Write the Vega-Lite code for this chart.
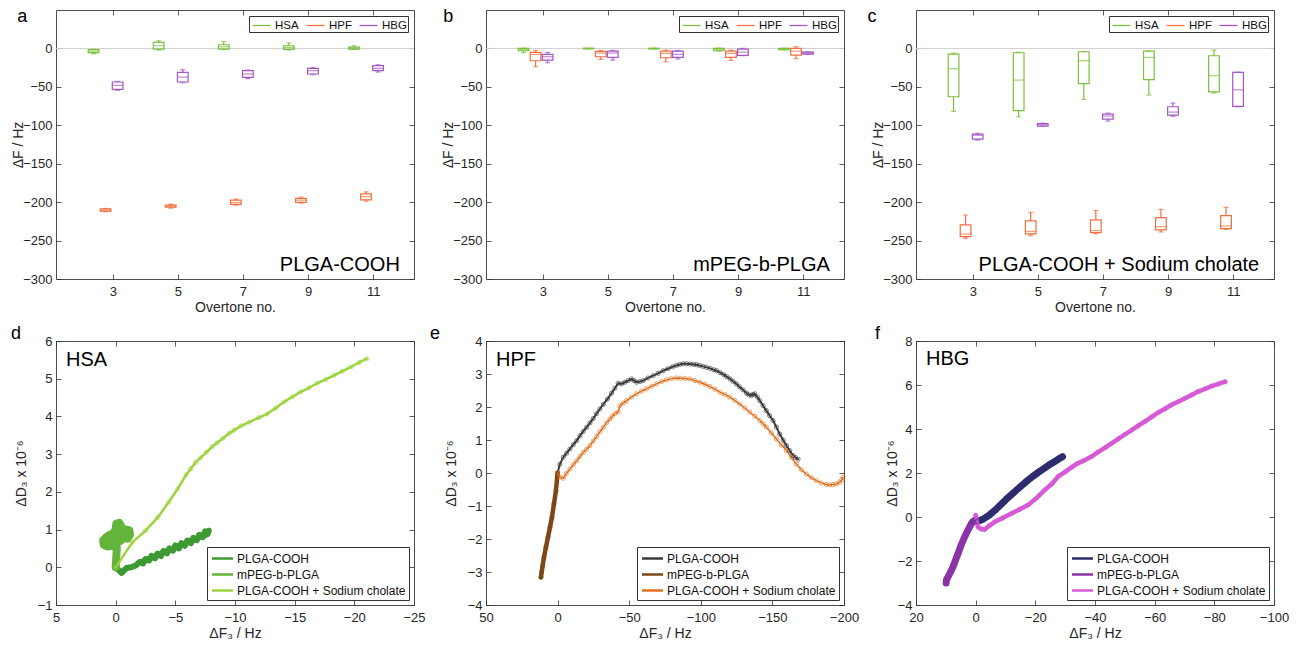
{
"$schema": "https://vega.github.io/schema/vega-lite/v6.json",
"padding": {"left": 10, "top": 7, "right": 5, "bottom": 5},
"background": "white",
"config": {
  "font": "Liberation Sans",
  "view": {"stroke": "#4d4d4d", "strokeWidth": 1},
  "axis": {"domain": false, "grid": false, "tickSize": -5, "tickCount": 20, "tickColor": "#333333", "tickWidth": 0.8, "labelFont": "Liberation Sans", "labelFontSize": 13, "labelColor": "#262626", "labelFlush": false, "labelOverlap": false, "titleFont": "Liberation Sans", "titleFontSize": 14, "titleFontWeight": "normal", "titleColor": "#262626"},
  "axisX": {"labelPadding": 11, "titlePadding": 2},
  "axisY": {"labelPadding": 9, "titlePadding": 3},
  "legend": {"labelFont": "Liberation Sans", "labelColor": "#111111", "strokeColor": "#333333", "fillColor": "#ffffff", "labelLimit": 400}
},
"datasets": {
"box": [
{"p":"a","g":"HSA","ot":3,"pos":2.41,"lo":-7,"q1":-5.5,"med":-3.5,"q3":-1.5,"hi":-1},
{"p":"a","g":"HSA","ot":5,"pos":4.41,"lo":-2.2,"q1":-0.9,"med":3.5,"q3":7.8,"hi":10},
{"p":"a","g":"HSA","ot":7,"pos":6.41,"lo":-1.3,"q1":-0.9,"med":2.2,"q3":4.8,"hi":9},
{"p":"a","g":"HSA","ot":9,"pos":8.41,"lo":-2,"q1":-1.3,"med":1.3,"q3":3.5,"hi":7.4},
{"p":"a","g":"HSA","ot":11,"pos":10.41,"lo":-1.3,"q1":-0.9,"med":0.4,"q3":1.7,"hi":3.5},
{"p":"a","g":"HPF","ot":3,"pos":2.78,"lo":-212.5,"q1":-211.7,"med":-210.4,"q3":-208.7,"hi":-208.2},
{"p":"a","g":"HPF","ot":5,"pos":4.78,"lo":-207.8,"q1":-206.5,"med":-205.2,"q3":-203.9,"hi":-202.6},
{"p":"a","g":"HPF","ot":7,"pos":6.78,"lo":-203.9,"q1":-203,"med":-200.5,"q3":-197.4,"hi":-196},
{"p":"a","g":"HPF","ot":9,"pos":8.78,"lo":-201.3,"q1":-200.4,"med":-197.4,"q3":-195.2,"hi":-193.5},
{"p":"a","g":"HPF","ot":11,"pos":10.78,"lo":-198.7,"q1":-197,"med":-192.6,"q3":-189.2,"hi":-186.6},
{"p":"a","g":"HBG","ot":3,"pos":3.15,"lo":-54.5,"q1":-53.2,"med":-48,"q3":-43.7,"hi":-42.9},
{"p":"a","g":"HBG","ot":5,"pos":5.15,"lo":-44.6,"q1":-43.7,"med":-37.2,"q3":-31.2,"hi":-27.7},
{"p":"a","g":"HBG","ot":7,"pos":7.15,"lo":-39.4,"q1":-37.7,"med":-33.3,"q3":-29,"hi":-28.1},
{"p":"a","g":"HBG","ot":9,"pos":9.15,"lo":-34.2,"q1":-33.3,"med":-29,"q3":-26,"hi":-25.1},
{"p":"a","g":"HBG","ot":11,"pos":11.15,"lo":-30.7,"q1":-29,"med":-26,"q3":-22.5,"hi":-21.2},
{"p":"b","g":"HSA","ot":3,"pos":2.41,"lo":-5.6,"q1":-3,"med":-1.3,"q3":0,"hi":0.3},
{"p":"b","g":"HSA","ot":5,"pos":4.41,"lo":-0.6,"q1":-0.4,"med":-0.1,"q3":0.2,"hi":0.3},
{"p":"b","g":"HSA","ot":7,"pos":6.41,"lo":-0.8,"q1":-0.5,"med":-0.2,"q3":0.2,"hi":0.3},
{"p":"b","g":"HSA","ot":9,"pos":8.41,"lo":-3.5,"q1":-3,"med":-1.3,"q3":0,"hi":0.3},
{"p":"b","g":"HSA","ot":11,"pos":10.41,"lo":-1.9,"q1":-1.7,"med":-0.8,"q3":0,"hi":0.2},
{"p":"b","g":"HPF","ot":3,"pos":2.78,"lo":-23.8,"q1":-16,"med":-7.8,"q3":-5.2,"hi":-2.6},
{"p":"b","g":"HPF","ot":5,"pos":4.78,"lo":-14.3,"q1":-10.8,"med":-6,"q3":-3.9,"hi":-2.6},
{"p":"b","g":"HPF","ot":7,"pos":6.78,"lo":-17.3,"q1":-12.1,"med":-6.5,"q3":-3.5,"hi":-2.2},
{"p":"b","g":"HPF","ot":9,"pos":8.78,"lo":-15.6,"q1":-11.7,"med":-6.5,"q3":-3.5,"hi":-2.2},
{"p":"b","g":"HPF","ot":11,"pos":10.78,"lo":-13.4,"q1":-8.7,"med":-3.5,"q3":0,"hi":2.2},
{"p":"b","g":"HBG","ot":3,"pos":3.15,"lo":-18.6,"q1":-15.2,"med":-10.8,"q3":-7.8,"hi":-5.2},
{"p":"b","g":"HBG","ot":5,"pos":5.15,"lo":-15.2,"q1":-11.7,"med":-6,"q3":-3.5,"hi":-2.6},
{"p":"b","g":"HBG","ot":7,"pos":7.15,"lo":-13.9,"q1":-11.7,"med":-7.8,"q3":-3.5,"hi":-2.6},
{"p":"b","g":"HBG","ot":9,"pos":9.15,"lo":-9.5,"q1":-9.1,"med":-4.8,"q3":-0.9,"hi":0},
{"p":"b","g":"HBG","ot":11,"pos":11.15,"lo":-7.8,"q1":-7.4,"med":-6,"q3":-4.8,"hi":-4.4},
{"p":"c","g":"HSA","ot":3,"pos":2.41,"lo":-81.9,"q1":-62.9,"med":-26.4,"q3":-7.4,"hi":-6.1},
{"p":"c","g":"HSA","ot":5,"pos":4.41,"lo":-88.9,"q1":-81,"med":-41.2,"q3":-5.6,"hi":-4.8},
{"p":"c","g":"HSA","ot":7,"pos":6.41,"lo":-66.3,"q1":-45.9,"med":-16,"q3":-4.3,"hi":-3.9},
{"p":"c","g":"HSA","ot":9,"pos":8.41,"lo":-60.7,"q1":-40.7,"med":-11.7,"q3":-3.5,"hi":-3.4},
{"p":"c","g":"HSA","ot":11,"pos":10.41,"lo":-58,"q1":-56.4,"med":-35.5,"q3":-9.5,"hi":-2.2},
{"p":"c","g":"HPF","ot":3,"pos":2.78,"lo":-247,"q1":-244.9,"med":-241.4,"q3":-229.7,"hi":-216.7},
{"p":"c","g":"HPF","ot":5,"pos":4.78,"lo":-243.6,"q1":-241.4,"med":-238,"q3":-224.5,"hi":-213.3},
{"p":"c","g":"HPF","ot":7,"pos":6.78,"lo":-241,"q1":-239.7,"med":-237,"q3":-223.2,"hi":-211},
{"p":"c","g":"HPF","ot":9,"pos":8.78,"lo":-238.8,"q1":-236.2,"med":-231.9,"q3":-220.2,"hi":-209.4},
{"p":"c","g":"HPF","ot":11,"pos":10.78,"lo":-235.4,"q1":-234.5,"med":-231,"q3":-217.6,"hi":-206.8},
{"p":"c","g":"HBG","ot":3,"pos":3.15,"lo":-119.2,"q1":-117.9,"med":-113,"q3":-111.4,"hi":-110.5},
{"p":"c","g":"HBG","ot":5,"pos":5.15,"lo":-101.4,"q1":-101,"med":-99.3,"q3":-97.8,"hi":-97.2},
{"p":"c","g":"HBG","ot":7,"pos":7.15,"lo":-94.5,"q1":-91.9,"med":-88,"q3":-85.4,"hi":-84.1},
{"p":"c","g":"HBG","ot":9,"pos":9.15,"lo":-88.4,"q1":-86.7,"med":-82.8,"q3":-75.9,"hi":-71.1},
{"p":"c","g":"HBG","ot":11,"pos":11.15,"lo":-75.9,"q1":-75.5,"med":-53.8,"q3":-31.2,"hi":-30.8}
],
"curve": [
{"p":"d","s":"PLGA-COOH","i":0,"x":0,"y":0},
{"p":"d","s":"PLGA-COOH","i":1,"x":-0.5,"y":-0.15},
{"p":"d","s":"PLGA-COOH","i":2,"x":-0.9,"y":-0.02},
{"p":"d","s":"PLGA-COOH","i":3,"x":-1.3,"y":0.0},
{"p":"d","s":"PLGA-COOH","i":4,"x":-1.7,"y":0.05},
{"p":"d","s":"PLGA-COOH","i":5,"x":-2.0,"y":0.14},
{"p":"d","s":"PLGA-COOH","i":6,"x":-2.3,"y":0.1},
{"p":"d","s":"PLGA-COOH","i":7,"x":-2.5,"y":0.22},
{"p":"d","s":"PLGA-COOH","i":8,"x":-2.8,"y":0.18},
{"p":"d","s":"PLGA-COOH","i":9,"x":-3.0,"y":0.3},
{"p":"d","s":"PLGA-COOH","i":10,"x":-3.3,"y":0.24},
{"p":"d","s":"PLGA-COOH","i":11,"x":-3.5,"y":0.36},
{"p":"d","s":"PLGA-COOH","i":12,"x":-3.8,"y":0.3},
{"p":"d","s":"PLGA-COOH","i":13,"x":-4.0,"y":0.43},
{"p":"d","s":"PLGA-COOH","i":14,"x":-4.3,"y":0.37},
{"p":"d","s":"PLGA-COOH","i":15,"x":-4.5,"y":0.5},
{"p":"d","s":"PLGA-COOH","i":16,"x":-4.8,"y":0.44},
{"p":"d","s":"PLGA-COOH","i":17,"x":-5.0,"y":0.58},
{"p":"d","s":"PLGA-COOH","i":18,"x":-5.3,"y":0.5},
{"p":"d","s":"PLGA-COOH","i":19,"x":-5.5,"y":0.64},
{"p":"d","s":"PLGA-COOH","i":20,"x":-5.8,"y":0.57},
{"p":"d","s":"PLGA-COOH","i":21,"x":-6.0,"y":0.71},
{"p":"d","s":"PLGA-COOH","i":22,"x":-6.3,"y":0.64},
{"p":"d","s":"PLGA-COOH","i":23,"x":-6.5,"y":0.78},
{"p":"d","s":"PLGA-COOH","i":24,"x":-6.8,"y":0.72},
{"p":"d","s":"PLGA-COOH","i":25,"x":-7.0,"y":0.86},
{"p":"d","s":"PLGA-COOH","i":26,"x":-7.3,"y":0.8},
{"p":"d","s":"PLGA-COOH","i":27,"x":-7.5,"y":0.95},
{"p":"d","s":"PLGA-COOH","i":28,"x":-7.7,"y":0.88},
{"p":"d","s":"PLGA-COOH","i":29,"x":-7.8,"y":0.97},
{"p":"d","s":"PLGA-COOH","i":30,"x":-7.5,"y":0.85},
{"p":"d","s":"PLGA-COOH","i":31,"x":-7.0,"y":0.8},
{"p":"d","s":"PLGA-COOH","i":32,"x":-6.5,"y":0.72},
{"p":"d","s":"PLGA-COOH","i":33,"x":-6.0,"y":0.66},
{"p":"d","s":"PLGA-COOH","i":34,"x":-5.5,"y":0.59},
{"p":"d","s":"PLGA-COOH","i":35,"x":-5.0,"y":0.52},
{"p":"d","s":"PLGA-COOH","i":36,"x":-4.5,"y":0.45},
{"p":"d","s":"PLGA-COOH","i":37,"x":-4.0,"y":0.39},
{"p":"d","s":"PLGA-COOH","i":38,"x":-3.5,"y":0.32},
{"p":"d","s":"PLGA-COOH","i":39,"x":-3.0,"y":0.26},
{"p":"d","s":"PLGA-COOH","i":40,"x":-2.5,"y":0.19},
{"p":"d","s":"PLGA-COOH","i":41,"x":-2.0,"y":0.12},
{"p":"d","s":"mPEG-b-PLGA","i":0,"x":0,"y":0},
{"p":"d","s":"mPEG-b-PLGA","i":1,"x":-0.1,"y":0.53},
{"p":"d","s":"mPEG-b-PLGA","i":2,"x":0.3,"y":0.6},
{"p":"d","s":"mPEG-b-PLGA","i":3,"x":0.7,"y":0.55},
{"p":"d","s":"mPEG-b-PLGA","i":4,"x":1.0,"y":0.6},
{"p":"d","s":"mPEG-b-PLGA","i":5,"x":1.05,"y":0.72},
{"p":"d","s":"mPEG-b-PLGA","i":6,"x":0.8,"y":0.76},
{"p":"d","s":"mPEG-b-PLGA","i":7,"x":0.5,"y":0.68},
{"p":"d","s":"mPEG-b-PLGA","i":8,"x":0.2,"y":0.73},
{"p":"d","s":"mPEG-b-PLGA","i":9,"x":-0.1,"y":0.76},
{"p":"d","s":"mPEG-b-PLGA","i":10,"x":-0.4,"y":0.7},
{"p":"d","s":"mPEG-b-PLGA","i":11,"x":-0.7,"y":0.78},
{"p":"d","s":"mPEG-b-PLGA","i":12,"x":-1.0,"y":0.76},
{"p":"d","s":"mPEG-b-PLGA","i":13,"x":-1.2,"y":0.86},
{"p":"d","s":"mPEG-b-PLGA","i":14,"x":-1.15,"y":0.98},
{"p":"d","s":"mPEG-b-PLGA","i":15,"x":-0.9,"y":1.0},
{"p":"d","s":"mPEG-b-PLGA","i":16,"x":-0.6,"y":0.96},
{"p":"d","s":"mPEG-b-PLGA","i":17,"x":-0.45,"y":1.1},
{"p":"d","s":"mPEG-b-PLGA","i":18,"x":-0.3,"y":1.18},
{"p":"d","s":"mPEG-b-PLGA","i":19,"x":-0.05,"y":1.16},
{"p":"d","s":"mPEG-b-PLGA","i":20,"x":0.0,"y":1.0},
{"p":"d","s":"mPEG-b-PLGA","i":21,"x":0.2,"y":0.9},
{"p":"d","s":"mPEG-b-PLGA","i":22,"x":0.5,"y":0.86},
{"p":"d","s":"mPEG-b-PLGA","i":23,"x":0.8,"y":0.8},
{"p":"d","s":"mPEG-b-PLGA","i":24,"x":1.0,"y":0.68},
{"p":"d","s":"mPEG-b-PLGA","i":25,"x":0.6,"y":0.63},
{"p":"d","s":"mPEG-b-PLGA","i":26,"x":0.2,"y":0.66},
{"p":"d","s":"mPEG-b-PLGA","i":27,"x":-0.2,"y":0.86},
{"p":"d","s":"mPEG-b-PLGA","i":28,"x":-0.5,"y":0.88},
{"p":"d","s":"mPEG-b-PLGA","i":29,"x":-0.9,"y":0.88},
{"p":"d","s":"mPEG-b-PLGA","i":30,"x":-1.1,"y":0.93},
{"p":"d","s":"PLGA-COOH + Sodium cholate","i":0,"x":0,"y":0},
{"p":"d","s":"PLGA-COOH + Sodium cholate","i":1,"x":-1.4,"y":0.66},
{"p":"d","s":"PLGA-COOH + Sodium cholate","i":2,"x":-2.5,"y":0.97},
{"p":"d","s":"PLGA-COOH + Sodium cholate","i":3,"x":-3.55,"y":1.33},
{"p":"d","s":"PLGA-COOH + Sodium cholate","i":4,"x":-4.45,"y":1.73},
{"p":"d","s":"PLGA-COOH + Sodium cholate","i":5,"x":-5.2,"y":2.08},
{"p":"d","s":"PLGA-COOH + Sodium cholate","i":6,"x":-5.9,"y":2.45},
{"p":"d","s":"PLGA-COOH + Sodium cholate","i":7,"x":-6.3,"y":2.62},
{"p":"d","s":"PLGA-COOH + Sodium cholate","i":8,"x":-6.7,"y":2.78},
{"p":"d","s":"PLGA-COOH + Sodium cholate","i":9,"x":-7.1,"y":2.9},
{"p":"d","s":"PLGA-COOH + Sodium cholate","i":10,"x":-7.6,"y":3.05},
{"p":"d","s":"PLGA-COOH + Sodium cholate","i":11,"x":-8.1,"y":3.2},
{"p":"d","s":"PLGA-COOH + Sodium cholate","i":12,"x":-8.5,"y":3.3},
{"p":"d","s":"PLGA-COOH + Sodium cholate","i":13,"x":-9.0,"y":3.42},
{"p":"d","s":"PLGA-COOH + Sodium cholate","i":14,"x":-9.5,"y":3.55},
{"p":"d","s":"PLGA-COOH + Sodium cholate","i":15,"x":-9.9,"y":3.63},
{"p":"d","s":"PLGA-COOH + Sodium cholate","i":16,"x":-10.5,"y":3.75},
{"p":"d","s":"PLGA-COOH + Sodium cholate","i":17,"x":-11.2,"y":3.85},
{"p":"d","s":"PLGA-COOH + Sodium cholate","i":18,"x":-12.0,"y":3.97},
{"p":"d","s":"PLGA-COOH + Sodium cholate","i":19,"x":-12.7,"y":4.07},
{"p":"d","s":"PLGA-COOH + Sodium cholate","i":20,"x":-13.4,"y":4.22},
{"p":"d","s":"PLGA-COOH + Sodium cholate","i":21,"x":-14.1,"y":4.38},
{"p":"d","s":"PLGA-COOH + Sodium cholate","i":22,"x":-14.8,"y":4.52},
{"p":"d","s":"PLGA-COOH + Sodium cholate","i":23,"x":-15.5,"y":4.65},
{"p":"d","s":"PLGA-COOH + Sodium cholate","i":24,"x":-16.2,"y":4.76},
{"p":"d","s":"PLGA-COOH + Sodium cholate","i":25,"x":-16.9,"y":4.88},
{"p":"d","s":"PLGA-COOH + Sodium cholate","i":26,"x":-17.6,"y":4.98},
{"p":"d","s":"PLGA-COOH + Sodium cholate","i":27,"x":-18.3,"y":5.09},
{"p":"d","s":"PLGA-COOH + Sodium cholate","i":28,"x":-19.0,"y":5.2},
{"p":"d","s":"PLGA-COOH + Sodium cholate","i":29,"x":-19.7,"y":5.31},
{"p":"d","s":"PLGA-COOH + Sodium cholate","i":30,"x":-20.4,"y":5.43},
{"p":"d","s":"PLGA-COOH + Sodium cholate","i":31,"x":-21.05,"y":5.53},
{"p":"e","s":"PLGA-COOH","i":0,"x":0,"y":0},
{"p":"e","s":"PLGA-COOH","i":1,"x":-1.6,"y":0.27},
{"p":"e","s":"PLGA-COOH","i":2,"x":-4,"y":0.48},
{"p":"e","s":"PLGA-COOH","i":3,"x":-6.3,"y":0.6},
{"p":"e","s":"PLGA-COOH","i":4,"x":-8.6,"y":0.73},
{"p":"e","s":"PLGA-COOH","i":5,"x":-11,"y":0.86},
{"p":"e","s":"PLGA-COOH","i":6,"x":-13.3,"y":0.98},
{"p":"e","s":"PLGA-COOH","i":7,"x":-15.6,"y":1.13},
{"p":"e","s":"PLGA-COOH","i":8,"x":-17.9,"y":1.26},
{"p":"e","s":"PLGA-COOH","i":9,"x":-20.2,"y":1.38},
{"p":"e","s":"PLGA-COOH","i":10,"x":-22.6,"y":1.52},
{"p":"e","s":"PLGA-COOH","i":11,"x":-24.9,"y":1.65},
{"p":"e","s":"PLGA-COOH","i":12,"x":-27.2,"y":1.8},
{"p":"e","s":"PLGA-COOH","i":13,"x":-29.5,"y":1.94},
{"p":"e","s":"PLGA-COOH","i":14,"x":-31.9,"y":2.08},
{"p":"e","s":"PLGA-COOH","i":15,"x":-34.8,"y":2.24},
{"p":"e","s":"PLGA-COOH","i":16,"x":-37.7,"y":2.42},
{"p":"e","s":"PLGA-COOH","i":17,"x":-40,"y":2.57},
{"p":"e","s":"PLGA-COOH","i":18,"x":-42.3,"y":2.72},
{"p":"e","s":"PLGA-COOH","i":19,"x":-44.7,"y":2.7},
{"p":"e","s":"PLGA-COOH","i":20,"x":-47,"y":2.75},
{"p":"e","s":"PLGA-COOH","i":21,"x":-49.3,"y":2.8},
{"p":"e","s":"PLGA-COOH","i":22,"x":-51.6,"y":2.85},
{"p":"e","s":"PLGA-COOH","i":23,"x":-53.4,"y":2.8},
{"p":"e","s":"PLGA-COOH","i":24,"x":-55.1,"y":2.75},
{"p":"e","s":"PLGA-COOH","i":25,"x":-57.5,"y":2.77},
{"p":"e","s":"PLGA-COOH","i":26,"x":-59.8,"y":2.8},
{"p":"e","s":"PLGA-COOH","i":27,"x":-63.2,"y":2.88},
{"p":"e","s":"PLGA-COOH","i":28,"x":-66.7,"y":2.95},
{"p":"e","s":"PLGA-COOH","i":29,"x":-70.2,"y":3.02},
{"p":"e","s":"PLGA-COOH","i":30,"x":-73.7,"y":3.1},
{"p":"e","s":"PLGA-COOH","i":31,"x":-77,"y":3.16},
{"p":"e","s":"PLGA-COOH","i":32,"x":-80.3,"y":3.22},
{"p":"e","s":"PLGA-COOH","i":33,"x":-83,"y":3.26},
{"p":"e","s":"PLGA-COOH","i":34,"x":-85.3,"y":3.29},
{"p":"e","s":"PLGA-COOH","i":35,"x":-87.7,"y":3.31},
{"p":"e","s":"PLGA-COOH","i":36,"x":-90,"y":3.31},
{"p":"e","s":"PLGA-COOH","i":37,"x":-92.5,"y":3.3},
{"p":"e","s":"PLGA-COOH","i":38,"x":-95,"y":3.29},
{"p":"e","s":"PLGA-COOH","i":39,"x":-97,"y":3.28},
{"p":"e","s":"PLGA-COOH","i":40,"x":-99,"y":3.26},
{"p":"e","s":"PLGA-COOH","i":41,"x":-101.5,"y":3.23},
{"p":"e","s":"PLGA-COOH","i":42,"x":-104,"y":3.2},
{"p":"e","s":"PLGA-COOH","i":43,"x":-106.5,"y":3.17},
{"p":"e","s":"PLGA-COOH","i":44,"x":-109,"y":3.13},
{"p":"e","s":"PLGA-COOH","i":45,"x":-111,"y":3.1},
{"p":"e","s":"PLGA-COOH","i":46,"x":-113.5,"y":3.04},
{"p":"e","s":"PLGA-COOH","i":47,"x":-116,"y":2.98},
{"p":"e","s":"PLGA-COOH","i":48,"x":-118,"y":2.92},
{"p":"e","s":"PLGA-COOH","i":49,"x":-120.5,"y":2.85},
{"p":"e","s":"PLGA-COOH","i":50,"x":-122.5,"y":2.78},
{"p":"e","s":"PLGA-COOH","i":51,"x":-124.9,"y":2.7},
{"p":"e","s":"PLGA-COOH","i":52,"x":-127,"y":2.61},
{"p":"e","s":"PLGA-COOH","i":53,"x":-129.5,"y":2.52},
{"p":"e","s":"PLGA-COOH","i":54,"x":-131.9,"y":2.42},
{"p":"e","s":"PLGA-COOH","i":55,"x":-133.5,"y":2.37},
{"p":"e","s":"PLGA-COOH","i":56,"x":-135.3,"y":2.35},
{"p":"e","s":"PLGA-COOH","i":57,"x":-136.5,"y":2.38},
{"p":"e","s":"PLGA-COOH","i":58,"x":-137.7,"y":2.4},
{"p":"e","s":"PLGA-COOH","i":59,"x":-139.5,"y":2.3},
{"p":"e","s":"PLGA-COOH","i":60,"x":-141.2,"y":2.19},
{"p":"e","s":"PLGA-COOH","i":61,"x":-143.5,"y":2.04},
{"p":"e","s":"PLGA-COOH","i":62,"x":-145.8,"y":1.89},
{"p":"e","s":"PLGA-COOH","i":63,"x":-148,"y":1.74},
{"p":"e","s":"PLGA-COOH","i":64,"x":-150.5,"y":1.59},
{"p":"e","s":"PLGA-COOH","i":65,"x":-152.8,"y":1.39},
{"p":"e","s":"PLGA-COOH","i":66,"x":-155.1,"y":1.18},
{"p":"e","s":"PLGA-COOH","i":67,"x":-157.5,"y":1.0},
{"p":"e","s":"PLGA-COOH","i":68,"x":-159.8,"y":0.83},
{"p":"e","s":"PLGA-COOH","i":69,"x":-162,"y":0.68},
{"p":"e","s":"PLGA-COOH","i":70,"x":-164.4,"y":0.53},
{"p":"e","s":"PLGA-COOH","i":71,"x":-166,"y":0.47},
{"p":"e","s":"PLGA-COOH","i":72,"x":-167.9,"y":0.42},
{"p":"e","s":"mPEG-b-PLGA","i":0,"x":0,"y":0},
{"p":"e","s":"mPEG-b-PLGA","i":1,"x":1.16,"y":-0.54},
{"p":"e","s":"mPEG-b-PLGA","i":2,"x":2.56,"y":-0.94},
{"p":"e","s":"mPEG-b-PLGA","i":3,"x":3.95,"y":-1.34},
{"p":"e","s":"mPEG-b-PLGA","i":4,"x":5.35,"y":-1.65},
{"p":"e","s":"mPEG-b-PLGA","i":5,"x":6.74,"y":-1.95},
{"p":"e","s":"mPEG-b-PLGA","i":6,"x":8.14,"y":-2.25},
{"p":"e","s":"mPEG-b-PLGA","i":7,"x":9.53,"y":-2.56},
{"p":"e","s":"mPEG-b-PLGA","i":8,"x":10.47,"y":-2.81},
{"p":"e","s":"mPEG-b-PLGA","i":9,"x":11.16,"y":-3.01},
{"p":"e","s":"mPEG-b-PLGA","i":10,"x":11.63,"y":-3.16},
{"p":"e","s":"PLGA-COOH + Sodium cholate","i":0,"x":0,"y":0},
{"p":"e","s":"PLGA-COOH + Sodium cholate","i":1,"x":-1.6,"y":-0.13},
{"p":"e","s":"PLGA-COOH + Sodium cholate","i":2,"x":-4,"y":-0.16},
{"p":"e","s":"PLGA-COOH + Sodium cholate","i":3,"x":-6,"y":-0.02},
{"p":"e","s":"PLGA-COOH + Sodium cholate","i":4,"x":-8.6,"y":0.12},
{"p":"e","s":"PLGA-COOH + Sodium cholate","i":5,"x":-11,"y":0.25},
{"p":"e","s":"PLGA-COOH + Sodium cholate","i":6,"x":-13.3,"y":0.37},
{"p":"e","s":"PLGA-COOH + Sodium cholate","i":7,"x":-15.6,"y":0.5},
{"p":"e","s":"PLGA-COOH + Sodium cholate","i":8,"x":-17.9,"y":0.62},
{"p":"e","s":"PLGA-COOH + Sodium cholate","i":9,"x":-20.2,"y":0.72},
{"p":"e","s":"PLGA-COOH + Sodium cholate","i":10,"x":-22.6,"y":0.83},
{"p":"e","s":"PLGA-COOH + Sodium cholate","i":11,"x":-24.9,"y":0.97},
{"p":"e","s":"PLGA-COOH + Sodium cholate","i":12,"x":-27.2,"y":1.1},
{"p":"e","s":"PLGA-COOH + Sodium cholate","i":13,"x":-29.5,"y":1.25},
{"p":"e","s":"PLGA-COOH + Sodium cholate","i":14,"x":-31.9,"y":1.38},
{"p":"e","s":"PLGA-COOH + Sodium cholate","i":15,"x":-34.2,"y":1.52},
{"p":"e","s":"PLGA-COOH + Sodium cholate","i":16,"x":-36.5,"y":1.63},
{"p":"e","s":"PLGA-COOH + Sodium cholate","i":17,"x":-38.3,"y":1.72},
{"p":"e","s":"PLGA-COOH + Sodium cholate","i":18,"x":-40,"y":1.8},
{"p":"e","s":"PLGA-COOH + Sodium cholate","i":19,"x":-42.3,"y":1.85},
{"p":"e","s":"PLGA-COOH + Sodium cholate","i":20,"x":-43.5,"y":2.04},
{"p":"e","s":"PLGA-COOH + Sodium cholate","i":21,"x":-45.8,"y":2.12},
{"p":"e","s":"PLGA-COOH + Sodium cholate","i":22,"x":-48.1,"y":2.19},
{"p":"e","s":"PLGA-COOH + Sodium cholate","i":23,"x":-51.6,"y":2.3},
{"p":"e","s":"PLGA-COOH + Sodium cholate","i":24,"x":-55.1,"y":2.4},
{"p":"e","s":"PLGA-COOH + Sodium cholate","i":25,"x":-58.6,"y":2.48},
{"p":"e","s":"PLGA-COOH + Sodium cholate","i":26,"x":-62.1,"y":2.55},
{"p":"e","s":"PLGA-COOH + Sodium cholate","i":27,"x":-65.6,"y":2.63},
{"p":"e","s":"PLGA-COOH + Sodium cholate","i":28,"x":-69.1,"y":2.7},
{"p":"e","s":"PLGA-COOH + Sodium cholate","i":29,"x":-72.6,"y":2.77},
{"p":"e","s":"PLGA-COOH + Sodium cholate","i":30,"x":-76,"y":2.82},
{"p":"e","s":"PLGA-COOH + Sodium cholate","i":31,"x":-79.5,"y":2.86},
{"p":"e","s":"PLGA-COOH + Sodium cholate","i":32,"x":-83,"y":2.88},
{"p":"e","s":"PLGA-COOH + Sodium cholate","i":33,"x":-86,"y":2.87},
{"p":"e","s":"PLGA-COOH + Sodium cholate","i":34,"x":-89.2,"y":2.86},
{"p":"e","s":"PLGA-COOH + Sodium cholate","i":35,"x":-92.3,"y":2.85},
{"p":"e","s":"PLGA-COOH + Sodium cholate","i":36,"x":-95.8,"y":2.8},
{"p":"e","s":"PLGA-COOH + Sodium cholate","i":37,"x":-99.3,"y":2.75},
{"p":"e","s":"PLGA-COOH + Sodium cholate","i":38,"x":-102.8,"y":2.69},
{"p":"e","s":"PLGA-COOH + Sodium cholate","i":39,"x":-106.3,"y":2.62},
{"p":"e","s":"PLGA-COOH + Sodium cholate","i":40,"x":-109.8,"y":2.54},
{"p":"e","s":"PLGA-COOH + Sodium cholate","i":41,"x":-113.3,"y":2.45},
{"p":"e","s":"PLGA-COOH + Sodium cholate","i":42,"x":-116.7,"y":2.38},
{"p":"e","s":"PLGA-COOH + Sodium cholate","i":43,"x":-120.2,"y":2.3},
{"p":"e","s":"PLGA-COOH + Sodium cholate","i":44,"x":-123.7,"y":2.2},
{"p":"e","s":"PLGA-COOH + Sodium cholate","i":45,"x":-127.2,"y":2.09},
{"p":"e","s":"PLGA-COOH + Sodium cholate","i":46,"x":-130.7,"y":1.97},
{"p":"e","s":"PLGA-COOH + Sodium cholate","i":47,"x":-134.2,"y":1.84},
{"p":"e","s":"PLGA-COOH + Sodium cholate","i":48,"x":-137.7,"y":1.72},
{"p":"e","s":"PLGA-COOH + Sodium cholate","i":49,"x":-141.2,"y":1.59},
{"p":"e","s":"PLGA-COOH + Sodium cholate","i":50,"x":-143.5,"y":1.49},
{"p":"e","s":"PLGA-COOH + Sodium cholate","i":51,"x":-145.8,"y":1.39},
{"p":"e","s":"PLGA-COOH + Sodium cholate","i":52,"x":-149.3,"y":1.21},
{"p":"e","s":"PLGA-COOH + Sodium cholate","i":53,"x":-152.8,"y":1.03},
{"p":"e","s":"PLGA-COOH + Sodium cholate","i":54,"x":-156.3,"y":0.85},
{"p":"e","s":"PLGA-COOH + Sodium cholate","i":55,"x":-159.8,"y":0.68},
{"p":"e","s":"PLGA-COOH + Sodium cholate","i":56,"x":-163.3,"y":0.47},
{"p":"e","s":"PLGA-COOH + Sodium cholate","i":57,"x":-166.7,"y":0.27},
{"p":"e","s":"PLGA-COOH + Sodium cholate","i":58,"x":-170.2,"y":0.1},
{"p":"e","s":"PLGA-COOH + Sodium cholate","i":59,"x":-173.7,"y":-0.03},
{"p":"e","s":"PLGA-COOH + Sodium cholate","i":60,"x":-177.2,"y":-0.14},
{"p":"e","s":"PLGA-COOH + Sodium cholate","i":61,"x":-180.7,"y":-0.23},
{"p":"e","s":"PLGA-COOH + Sodium cholate","i":62,"x":-184.2,"y":-0.3},
{"p":"e","s":"PLGA-COOH + Sodium cholate","i":63,"x":-187.7,"y":-0.35},
{"p":"e","s":"PLGA-COOH + Sodium cholate","i":64,"x":-190,"y":-0.36},
{"p":"e","s":"PLGA-COOH + Sodium cholate","i":65,"x":-192.3,"y":-0.35},
{"p":"e","s":"PLGA-COOH + Sodium cholate","i":66,"x":-194.7,"y":-0.33},
{"p":"e","s":"PLGA-COOH + Sodium cholate","i":67,"x":-197,"y":-0.28},
{"p":"e","s":"PLGA-COOH + Sodium cholate","i":68,"x":-198.5,"y":-0.2},
{"p":"e","s":"PLGA-COOH + Sodium cholate","i":69,"x":-199.3,"y":-0.13},
{"p":"f","s":"PLGA-COOH","i":0,"x":0.9,"y":-0.22},
{"p":"f","s":"PLGA-COOH","i":1,"x":-0.5,"y":-0.2},
{"p":"f","s":"PLGA-COOH","i":2,"x":-2.5,"y":-0.1},
{"p":"f","s":"PLGA-COOH","i":3,"x":-4.5,"y":0.08},
{"p":"f","s":"PLGA-COOH","i":4,"x":-6.4,"y":0.3},
{"p":"f","s":"PLGA-COOH","i":5,"x":-8.3,"y":0.55},
{"p":"f","s":"PLGA-COOH","i":6,"x":-10.2,"y":0.8},
{"p":"f","s":"PLGA-COOH","i":7,"x":-12,"y":1.02},
{"p":"f","s":"PLGA-COOH","i":8,"x":-13.9,"y":1.25},
{"p":"f","s":"PLGA-COOH","i":9,"x":-15.7,"y":1.46},
{"p":"f","s":"PLGA-COOH","i":10,"x":-17.5,"y":1.67},
{"p":"f","s":"PLGA-COOH","i":11,"x":-19.4,"y":1.87},
{"p":"f","s":"PLGA-COOH","i":12,"x":-21.2,"y":2.05},
{"p":"f","s":"PLGA-COOH","i":13,"x":-23.1,"y":2.22},
{"p":"f","s":"PLGA-COOH","i":14,"x":-25,"y":2.4},
{"p":"f","s":"PLGA-COOH","i":15,"x":-26.8,"y":2.55},
{"p":"f","s":"PLGA-COOH","i":16,"x":-28.2,"y":2.67},
{"p":"f","s":"PLGA-COOH","i":17,"x":-29.1,"y":2.74},
{"p":"f","s":"mPEG-b-PLGA","i":0,"x":0.3,"y":-0.15},
{"p":"f","s":"mPEG-b-PLGA","i":1,"x":1.45,"y":-0.3},
{"p":"f","s":"mPEG-b-PLGA","i":2,"x":2.5,"y":-0.58},
{"p":"f","s":"mPEG-b-PLGA","i":3,"x":3.7,"y":-0.9},
{"p":"f","s":"mPEG-b-PLGA","i":4,"x":4.8,"y":-1.25},
{"p":"f","s":"mPEG-b-PLGA","i":5,"x":5.9,"y":-1.66},
{"p":"f","s":"mPEG-b-PLGA","i":6,"x":6.8,"y":-1.98},
{"p":"f","s":"mPEG-b-PLGA","i":7,"x":7.6,"y":-2.27},
{"p":"f","s":"mPEG-b-PLGA","i":8,"x":8.5,"y":-2.52},
{"p":"f","s":"mPEG-b-PLGA","i":9,"x":9.27,"y":-2.72},
{"p":"f","s":"mPEG-b-PLGA","i":10,"x":9.84,"y":-2.88},
{"p":"f","s":"mPEG-b-PLGA","i":11,"x":9.9,"y":-3.0},
{"p":"f","s":"PLGA-COOH + Sodium cholate","i":0,"x":0,"y":0.08},
{"p":"f","s":"PLGA-COOH + Sodium cholate","i":1,"x":-0.8,"y":-0.45},
{"p":"f","s":"PLGA-COOH + Sodium cholate","i":2,"x":-1.8,"y":-0.55},
{"p":"f","s":"PLGA-COOH + Sodium cholate","i":3,"x":-3.0,"y":-0.57},
{"p":"f","s":"PLGA-COOH + Sodium cholate","i":4,"x":-4.5,"y":-0.4},
{"p":"f","s":"PLGA-COOH + Sodium cholate","i":5,"x":-6.4,"y":-0.22},
{"p":"f","s":"PLGA-COOH + Sodium cholate","i":6,"x":-9,"y":-0.05},
{"p":"f","s":"PLGA-COOH + Sodium cholate","i":7,"x":-12,"y":0.16},
{"p":"f","s":"PLGA-COOH + Sodium cholate","i":8,"x":-14.8,"y":0.35},
{"p":"f","s":"PLGA-COOH + Sodium cholate","i":9,"x":-17.5,"y":0.54},
{"p":"f","s":"PLGA-COOH + Sodium cholate","i":10,"x":-20.3,"y":0.85},
{"p":"f","s":"PLGA-COOH + Sodium cholate","i":11,"x":-23.1,"y":1.22},
{"p":"f","s":"PLGA-COOH + Sodium cholate","i":12,"x":-25.5,"y":1.5},
{"p":"f","s":"PLGA-COOH + Sodium cholate","i":13,"x":-27.7,"y":1.85},
{"p":"f","s":"PLGA-COOH + Sodium cholate","i":14,"x":-30,"y":2.05},
{"p":"f","s":"PLGA-COOH + Sodium cholate","i":15,"x":-32,"y":2.25},
{"p":"f","s":"PLGA-COOH + Sodium cholate","i":16,"x":-34,"y":2.42},
{"p":"f","s":"PLGA-COOH + Sodium cholate","i":17,"x":-36,"y":2.55},
{"p":"f","s":"PLGA-COOH + Sodium cholate","i":18,"x":-38.9,"y":2.75},
{"p":"f","s":"PLGA-COOH + Sodium cholate","i":19,"x":-41,"y":2.95},
{"p":"f","s":"PLGA-COOH + Sodium cholate","i":20,"x":-43.4,"y":3.15},
{"p":"f","s":"PLGA-COOH + Sodium cholate","i":21,"x":-45.6,"y":3.35},
{"p":"f","s":"PLGA-COOH + Sodium cholate","i":22,"x":-47.8,"y":3.55},
{"p":"f","s":"PLGA-COOH + Sodium cholate","i":23,"x":-50,"y":3.75},
{"p":"f","s":"PLGA-COOH + Sodium cholate","i":24,"x":-52.3,"y":3.95},
{"p":"f","s":"PLGA-COOH + Sodium cholate","i":25,"x":-54.5,"y":4.15},
{"p":"f","s":"PLGA-COOH + Sodium cholate","i":26,"x":-56.8,"y":4.35},
{"p":"f","s":"PLGA-COOH + Sodium cholate","i":27,"x":-59,"y":4.55},
{"p":"f","s":"PLGA-COOH + Sodium cholate","i":28,"x":-61.2,"y":4.75},
{"p":"f","s":"PLGA-COOH + Sodium cholate","i":29,"x":-63.5,"y":4.92},
{"p":"f","s":"PLGA-COOH + Sodium cholate","i":30,"x":-65.7,"y":5.1},
{"p":"f","s":"PLGA-COOH + Sodium cholate","i":31,"x":-68,"y":5.25},
{"p":"f","s":"PLGA-COOH + Sodium cholate","i":32,"x":-70.2,"y":5.4},
{"p":"f","s":"PLGA-COOH + Sodium cholate","i":33,"x":-72.4,"y":5.55},
{"p":"f","s":"PLGA-COOH + Sodium cholate","i":34,"x":-74.6,"y":5.7},
{"p":"f","s":"PLGA-COOH + Sodium cholate","i":35,"x":-77,"y":5.83},
{"p":"f","s":"PLGA-COOH + Sodium cholate","i":36,"x":-79.1,"y":5.95},
{"p":"f","s":"PLGA-COOH + Sodium cholate","i":37,"x":-81.4,"y":6.05},
{"p":"f","s":"PLGA-COOH + Sodium cholate","i":38,"x":-83.6,"y":6.15}
]
},
"columns": 3,
"spacing": {"row": 62, "column": 72},
"bounds": "flush",
"resolve": {"scale": {"color": "independent"}, "legend": {"color": "independent"}},
"concat": [
{
 "width": 358, "height": 269,
 "data": {"name": "box"},
 "transform": [{"filter": "datum.p === 'a'"}],
 "layer": [
  {"layer": [
   {"data": {"values": [{}]}, "mark": {"type": "rule", "color": "#cfcfcf", "strokeWidth": 1}, "encoding": {"y": {"datum": 0, "type": "quantitative"}}},
   {"mark": {"type": "rule", "strokeWidth": 1.2},
    "encoding": {
     "x": {"field": "pos", "type": "quantitative", "scale": {"domain": [1.41, 12.1], "nice": false, "zero": false}, "axis": {"values": [3,5,7,9,11], "format": "d", "tickCount": 20, "title": "Overtone no.", "labelOverlap": false}},
     "y": {"field": "lo", "type": "quantitative", "scale": {"domain": [-300, 50], "nice": false, "zero": false}, "axis": {"values": [-300,-250,-200,-150,-100,-50,0], "format": "d", "tickCount": 20, "title": "ΔF / Hz", "titlePadding": -3, "labelOverlap": false}},
     "y2": {"field": "q1"},
     "color": {"field": "g", "type": "nominal", "scale": {"domain": ["HSA","HPF","HBG"], "range": ["#7dbf3e","#f0703f","#a357c6"]}, "legend": {"title": null, "orient": "top-right", "direction": "horizontal", "offset": 6, "padding": 1, "columnPadding": 4, "labelFontSize": 11.5, "symbolType": "M-1.2,0L1.2,0", "symbolSize": 225, "symbolStrokeWidth": 1.3, "symbolOffset": 3, "labelOffset": 5}}
    }},
   {"mark": {"type": "rule", "strokeWidth": 1.2}, "encoding": {"x": {"field": "pos", "type": "quantitative"}, "y": {"field": "q3", "type": "quantitative"}, "y2": {"field": "hi"}, "color": {"field": "g", "type": "nominal", "legend": null}}},
   {"mark": {"type": "bar", "filled": false, "width": 10.7, "strokeWidth": 1.2}, "encoding": {"x": {"field": "pos", "type": "quantitative"}, "y": {"field": "q1", "type": "quantitative"}, "y2": {"field": "q3"}, "color": {"field": "g", "type": "nominal", "legend": null}}},
   {"mark": {"type": "tick", "orient": "horizontal", "size": 10.7, "thickness": 1.2}, "encoding": {"x": {"field": "pos", "type": "quantitative"}, "y": {"field": "med", "type": "quantitative"}, "color": {"field": "g", "type": "nominal", "legend": null}}},
   {"mark": {"type": "tick", "orient": "horizontal", "size": 5, "thickness": 1.2}, "encoding": {"x": {"field": "pos", "type": "quantitative"}, "y": {"field": "lo", "type": "quantitative"}, "color": {"field": "g", "type": "nominal", "legend": null}}},
   {"mark": {"type": "tick", "orient": "horizontal", "size": 5, "thickness": 1.2}, "encoding": {"x": {"field": "pos", "type": "quantitative"}, "y": {"field": "hi", "type": "quantitative"}, "color": {"field": "g", "type": "nominal", "legend": null}}},
   {"data": {"values": [{}]}, "mark": {"type": "text", "text": "PLGA-COOH", "align": "right", "baseline": "alphabetic", "fontSize": 20, "color": "#000000"}, "encoding": {"x": {"datum": 11.82, "type": "quantitative"}, "y": {"datum": -290, "type": "quantitative"}}},
   {"data": {"values": [{}]}, "mark": {"type": "text", "text": "a", "align": "left", "baseline": "alphabetic", "fontSize": 18, "color": "#000000"}, "encoding": {"x": {"datum": 0.066, "type": "quantitative"}, "y": {"datum": 34.4, "type": "quantitative"}}}
  ]},
  {"data": {"values": [{"mx": 5, "my": 0}]}, "mark": {"type": "point", "opacity": 0}, "encoding": {"x": {"field": "mx", "type": "quantitative", "axis": {"orient": "top", "labels": false, "title": null, "values": [3,5,7,9,11], "tickCount": 20}}, "y": {"field": "my", "type": "quantitative", "axis": {"orient": "right", "labels": false, "title": null, "values": [-300,-250,-200,-150,-100,-50,0], "tickCount": 20}}}}
 ],
 "resolve": {"axis": {"x": "independent", "y": "independent"}}
},
{
 "width": 358, "height": 269,
 "data": {"name": "box"},
 "transform": [{"filter": "datum.p === 'b'"}],
 "layer": [
  {"layer": [
   {"data": {"values": [{}]}, "mark": {"type": "rule", "color": "#cfcfcf", "strokeWidth": 1}, "encoding": {"y": {"datum": 0, "type": "quantitative"}}},
   {"mark": {"type": "rule", "strokeWidth": 1.2},
    "encoding": {
     "x": {"field": "pos", "type": "quantitative", "scale": {"domain": [1.41, 12.1], "nice": false, "zero": false}, "axis": {"values": [3,5,7,9,11], "format": "d", "tickCount": 20, "title": "Overtone no.", "labelOverlap": false}},
     "y": {"field": "lo", "type": "quantitative", "scale": {"domain": [-300, 50], "nice": false, "zero": false}, "axis": {"values": [-300,-250,-200,-150,-100,-50,0], "format": "d", "tickCount": 20, "title": "ΔF / Hz", "titlePadding": -3, "labelOverlap": false}},
     "y2": {"field": "q1"},
     "color": {"field": "g", "type": "nominal", "scale": {"domain": ["HSA","HPF","HBG"], "range": ["#7dbf3e","#f0703f","#a357c6"]}, "legend": {"title": null, "orient": "top-right", "direction": "horizontal", "offset": 6, "padding": 1, "columnPadding": 4, "labelFontSize": 11.5, "symbolType": "M-1.2,0L1.2,0", "symbolSize": 225, "symbolStrokeWidth": 1.3, "symbolOffset": 3, "labelOffset": 5}}
    }},
   {"mark": {"type": "rule", "strokeWidth": 1.2}, "encoding": {"x": {"field": "pos", "type": "quantitative"}, "y": {"field": "q3", "type": "quantitative"}, "y2": {"field": "hi"}, "color": {"field": "g", "type": "nominal", "legend": null}}},
   {"mark": {"type": "bar", "filled": false, "width": 10.7, "strokeWidth": 1.2}, "encoding": {"x": {"field": "pos", "type": "quantitative"}, "y": {"field": "q1", "type": "quantitative"}, "y2": {"field": "q3"}, "color": {"field": "g", "type": "nominal", "legend": null}}},
   {"mark": {"type": "tick", "orient": "horizontal", "size": 10.7, "thickness": 1.2}, "encoding": {"x": {"field": "pos", "type": "quantitative"}, "y": {"field": "med", "type": "quantitative"}, "color": {"field": "g", "type": "nominal", "legend": null}}},
   {"mark": {"type": "tick", "orient": "horizontal", "size": 5, "thickness": 1.2}, "encoding": {"x": {"field": "pos", "type": "quantitative"}, "y": {"field": "lo", "type": "quantitative"}, "color": {"field": "g", "type": "nominal", "legend": null}}},
   {"mark": {"type": "tick", "orient": "horizontal", "size": 5, "thickness": 1.2}, "encoding": {"x": {"field": "pos", "type": "quantitative"}, "y": {"field": "hi", "type": "quantitative"}, "color": {"field": "g", "type": "nominal", "legend": null}}},
   {"data": {"values": [{}]}, "mark": {"type": "text", "text": "mPEG-b-PLGA", "align": "right", "baseline": "alphabetic", "fontSize": 20, "color": "#000000"}, "encoding": {"x": {"datum": 11.82, "type": "quantitative"}, "y": {"datum": -289, "type": "quantitative"}}},
   {"data": {"values": [{}]}, "mark": {"type": "text", "text": "b", "align": "left", "baseline": "alphabetic", "fontSize": 18, "color": "#000000"}, "encoding": {"x": {"datum": -0.053, "type": "quantitative"}, "y": {"datum": 34.4, "type": "quantitative"}}}
  ]},
  {"data": {"values": [{"mx": 5, "my": 0}]}, "mark": {"type": "point", "opacity": 0}, "encoding": {"x": {"field": "mx", "type": "quantitative", "axis": {"orient": "top", "labels": false, "title": null, "values": [3,5,7,9,11], "tickCount": 20}}, "y": {"field": "my", "type": "quantitative", "axis": {"orient": "right", "labels": false, "title": null, "values": [-300,-250,-200,-150,-100,-50,0], "tickCount": 20}}}}
 ],
 "resolve": {"axis": {"x": "independent", "y": "independent"}}
},
{
 "width": 358, "height": 269,
 "data": {"name": "box"},
 "transform": [{"filter": "datum.p === 'c'"}],
 "layer": [
  {"layer": [
   {"data": {"values": [{}]}, "mark": {"type": "rule", "color": "#cfcfcf", "strokeWidth": 1}, "encoding": {"y": {"datum": 0, "type": "quantitative"}}},
   {"mark": {"type": "rule", "strokeWidth": 1.2},
    "encoding": {
     "x": {"field": "pos", "type": "quantitative", "scale": {"domain": [1.41, 12.1], "nice": false, "zero": false}, "axis": {"values": [3,5,7,9,11], "format": "d", "tickCount": 20, "title": "Overtone no.", "labelOverlap": false}},
     "y": {"field": "lo", "type": "quantitative", "scale": {"domain": [-300, 50], "nice": false, "zero": false}, "axis": {"values": [-300,-250,-200,-150,-100,-50,0], "format": "d", "tickCount": 20, "title": "ΔF / Hz", "titlePadding": -3, "labelOverlap": false}},
     "y2": {"field": "q1"},
     "color": {"field": "g", "type": "nominal", "scale": {"domain": ["HSA","HPF","HBG"], "range": ["#7dbf3e","#f0703f","#a357c6"]}, "legend": {"title": null, "orient": "top-right", "direction": "horizontal", "offset": 6, "padding": 1, "columnPadding": 4, "labelFontSize": 11.5, "symbolType": "M-1.2,0L1.2,0", "symbolSize": 225, "symbolStrokeWidth": 1.3, "symbolOffset": 3, "labelOffset": 5}}
    }},
   {"mark": {"type": "rule", "strokeWidth": 1.2}, "encoding": {"x": {"field": "pos", "type": "quantitative"}, "y": {"field": "q3", "type": "quantitative"}, "y2": {"field": "hi"}, "color": {"field": "g", "type": "nominal", "legend": null}}},
   {"mark": {"type": "bar", "filled": false, "width": 10.7, "strokeWidth": 1.2}, "encoding": {"x": {"field": "pos", "type": "quantitative"}, "y": {"field": "q1", "type": "quantitative"}, "y2": {"field": "q3"}, "color": {"field": "g", "type": "nominal", "legend": null}}},
   {"mark": {"type": "tick", "orient": "horizontal", "size": 10.7, "thickness": 1.2}, "encoding": {"x": {"field": "pos", "type": "quantitative"}, "y": {"field": "med", "type": "quantitative"}, "color": {"field": "g", "type": "nominal", "legend": null}}},
   {"mark": {"type": "tick", "orient": "horizontal", "size": 5, "thickness": 1.2}, "encoding": {"x": {"field": "pos", "type": "quantitative"}, "y": {"field": "lo", "type": "quantitative"}, "color": {"field": "g", "type": "nominal", "legend": null}}},
   {"mark": {"type": "tick", "orient": "horizontal", "size": 5, "thickness": 1.2}, "encoding": {"x": {"field": "pos", "type": "quantitative"}, "y": {"field": "hi", "type": "quantitative"}, "color": {"field": "g", "type": "nominal", "legend": null}}},
   {"data": {"values": [{}]}, "mark": {"type": "text", "text": "PLGA-COOH + Sodium cholate", "align": "right", "baseline": "alphabetic", "fontSize": 20, "color": "#000000"}, "encoding": {"x": {"datum": 11.8, "type": "quantitative"}, "y": {"datum": -290, "type": "quantitative"}}},
   {"data": {"values": [{}]}, "mark": {"type": "text", "text": "c", "align": "left", "baseline": "alphabetic", "fontSize": 18, "color": "#000000"}, "encoding": {"x": {"datum": -0.232, "type": "quantitative"}, "y": {"datum": 34.4, "type": "quantitative"}}}
  ]},
  {"data": {"values": [{"mx": 5, "my": 0}]}, "mark": {"type": "point", "opacity": 0}, "encoding": {"x": {"field": "mx", "type": "quantitative", "axis": {"orient": "top", "labels": false, "title": null, "values": [3,5,7,9,11], "tickCount": 20}}, "y": {"field": "my", "type": "quantitative", "axis": {"orient": "right", "labels": false, "title": null, "values": [-300,-250,-200,-150,-100,-50,0], "tickCount": 20}}}}
 ],
 "resolve": {"axis": {"x": "independent", "y": "independent"}}
},
{
 "width": 358, "height": 264,
 "data": {"name": "curve"},
 "transform": [{"filter": "datum.p === 'd'"}],
 "layer": [
  {"layer": [
   {"transform": [{"filter": "datum.s === 'PLGA-COOH'"}],
    "mark": {"type": "line", "strokeCap": "round", "strokeJoin": "round", "strokeWidth": 6},
    "encoding": {
     "x": {"field": "x", "type": "quantitative", "scale": {"domain": [-25, 5], "reverse": true, "nice": false, "zero": false}, "axis": {"values": [5,0,-5,-10,-15,-20,-25], "format": "d", "tickCount": 20, "title": "ΔF₃ / Hz", "labelOverlap": false}},
     "y": {"field": "y", "type": "quantitative", "scale": {"domain": [-1, 6], "nice": false, "zero": false}, "axis": {"values": [-1,0,1,2,3,4,5,6], "format": "d", "tickCount": 20, "title": "ΔD₃ x 10⁻⁶", "titlePadding": 9, "labelOverlap": false}},
     "order": {"field": "i", "type": "quantitative"},
     "color": {"field": "s", "type": "nominal", "scale": {"domain": ["PLGA-COOH","mPEG-b-PLGA","PLGA-COOH + Sodium cholate"], "range": ["#3d9a32","#62b53a","#9fd23c"]}, "legend": {"title": null, "orient": "bottom-right", "direction": "vertical", "offset": 5, "padding": 3, "rowPadding": 1, "labelFontSize": 12, "symbolType": "M-1.5,0L1.5,0", "symbolSize": 196, "symbolStrokeWidth": 2.5, "symbolOffset": 4, "labelOffset": 6}}
    }},
   {"transform": [{"filter": "datum.s === 'mPEG-b-PLGA'"}], "mark": {"type": "line", "strokeCap": "round", "strokeJoin": "round", "strokeWidth": 8}, "encoding": {"x": {"field": "x", "type": "quantitative"}, "y": {"field": "y", "type": "quantitative"}, "order": {"field": "i", "type": "quantitative"}, "color": {"field": "s", "type": "nominal", "legend": null}}},
   {"transform": [{"filter": "datum.s === 'PLGA-COOH + Sodium cholate'"}], "mark": {"type": "line", "strokeCap": "round", "strokeJoin": "round", "strokeWidth": 2.5}, "encoding": {"x": {"field": "x", "type": "quantitative"}, "y": {"field": "y", "type": "quantitative"}, "order": {"field": "i", "type": "quantitative"}, "color": {"field": "s", "type": "nominal", "legend": null}}},
   {"mark": {"type": "point", "filled": false, "size": 18, "strokeWidth": 0.8, "opacity": 0.8}, "encoding": {"x": {"field": "x", "type": "quantitative"}, "y": {"field": "y", "type": "quantitative"}, "color": {"field": "s", "type": "nominal", "legend": null}}},
   {"data": {"values": [{}]}, "mark": {"type": "text", "text": "HSA", "align": "left", "baseline": "alphabetic", "fontSize": 20, "color": "#000000"}, "encoding": {"x": {"datum": 4.16, "type": "quantitative"}, "y": {"datum": 5.33, "type": "quantitative"}}},
   {"data": {"values": [{}]}, "mark": {"type": "text", "text": "d", "align": "left", "baseline": "alphabetic", "fontSize": 18, "color": "#000000"}, "encoding": {"x": {"datum": 8.77, "type": "quantitative"}, "y": {"datum": 6.05, "type": "quantitative"}}}
  ]},
  {"data": {"values": [{"mx": 0, "my": 0}]}, "mark": {"type": "point", "opacity": 0}, "encoding": {"x": {"field": "mx", "type": "quantitative", "axis": {"orient": "top", "labels": false, "title": null, "values": [5,0,-5,-10,-15,-20,-25], "tickCount": 20}}, "y": {"field": "my", "type": "quantitative", "axis": {"orient": "right", "labels": false, "title": null, "values": [-1,0,1,2,3,4,5,6], "tickCount": 20}}}}
 ],
 "resolve": {"axis": {"x": "independent", "y": "independent"}}
},
{
 "width": 358, "height": 264,
 "data": {"name": "curve"},
 "transform": [{"filter": "datum.p === 'e'"}],
 "layer": [
  {"layer": [
   {"transform": [{"filter": "datum.s === 'PLGA-COOH'"}],
    "mark": {"type": "line", "strokeCap": "round", "strokeJoin": "round", "strokeWidth": 2},
    "encoding": {
     "x": {"field": "x", "type": "quantitative", "scale": {"domain": [-200, 50], "reverse": true, "nice": false, "zero": false}, "axis": {"values": [50,0,-50,-100,-150,-200], "format": "d", "tickCount": 20, "title": "ΔF₃ / Hz", "labelOverlap": false}},
     "y": {"field": "y", "type": "quantitative", "scale": {"domain": [-4, 4], "nice": false, "zero": false}, "axis": {"values": [-4,-3,-2,-1,0,1,2,3,4], "format": "d", "tickCount": 20, "title": "ΔD₃ x 10⁻⁶", "titlePadding": 9, "labelOverlap": false}},
     "order": {"field": "i", "type": "quantitative"},
     "color": {"field": "s", "type": "nominal", "scale": {"domain": ["PLGA-COOH","mPEG-b-PLGA","PLGA-COOH + Sodium cholate"], "range": ["#3a3a3a","#7b4715","#e0701e"]}, "legend": {"title": null, "orient": "bottom-right", "direction": "vertical", "offset": 5, "padding": 3, "rowPadding": 1, "labelFontSize": 12, "symbolType": "M-1.5,0L1.5,0", "symbolSize": 196, "symbolStrokeWidth": 2.5, "symbolOffset": 4, "labelOffset": 6}}
    }},
   {"transform": [{"filter": "datum.s === 'mPEG-b-PLGA'"}], "mark": {"type": "line", "strokeCap": "round", "strokeJoin": "round", "strokeWidth": 4.5}, "encoding": {"x": {"field": "x", "type": "quantitative"}, "y": {"field": "y", "type": "quantitative"}, "order": {"field": "i", "type": "quantitative"}, "color": {"field": "s", "type": "nominal", "legend": null}}},
   {"transform": [{"filter": "datum.s === 'PLGA-COOH + Sodium cholate'"}], "mark": {"type": "line", "strokeCap": "round", "strokeJoin": "round", "strokeWidth": 1.5}, "encoding": {"x": {"field": "x", "type": "quantitative"}, "y": {"field": "y", "type": "quantitative"}, "order": {"field": "i", "type": "quantitative"}, "color": {"field": "s", "type": "nominal", "legend": null}}},
   {"mark": {"type": "point", "filled": false, "size": 18, "strokeWidth": 0.8, "opacity": 0.8}, "encoding": {"x": {"field": "x", "type": "quantitative"}, "y": {"field": "y", "type": "quantitative"}, "color": {"field": "s", "type": "nominal", "legend": null}}},
   {"data": {"values": [{}]}, "mark": {"type": "text", "text": "HPF", "align": "left", "baseline": "alphabetic", "fontSize": 20, "color": "#000000"}, "encoding": {"x": {"datum": 43, "type": "quantitative"}, "y": {"datum": 3.24, "type": "quantitative"}}},
   {"data": {"values": [{}]}, "mark": {"type": "text", "text": "e", "align": "left", "baseline": "alphabetic", "fontSize": 18, "color": "#000000"}, "encoding": {"x": {"datum": 89.1, "type": "quantitative"}, "y": {"datum": 4.06, "type": "quantitative"}}}
  ]},
  {"data": {"values": [{"mx": 0, "my": 0}]}, "mark": {"type": "point", "opacity": 0}, "encoding": {"x": {"field": "mx", "type": "quantitative", "axis": {"orient": "top", "labels": false, "title": null, "values": [50,0,-50,-100,-150,-200], "tickCount": 20}}, "y": {"field": "my", "type": "quantitative", "axis": {"orient": "right", "labels": false, "title": null, "values": [-4,-3,-2,-1,0,1,2,3,4], "tickCount": 20}}}}
 ],
 "resolve": {"axis": {"x": "independent", "y": "independent"}}
},
{
 "width": 358, "height": 264,
 "data": {"name": "curve"},
 "transform": [{"filter": "datum.p === 'f'"}],
 "layer": [
  {"layer": [
   {"transform": [{"filter": "datum.s === 'PLGA-COOH'"}],
    "mark": {"type": "line", "strokeCap": "round", "strokeJoin": "round", "strokeWidth": 7},
    "encoding": {
     "x": {"field": "x", "type": "quantitative", "scale": {"domain": [-100, 20], "reverse": true, "nice": false, "zero": false}, "axis": {"values": [20,0,-20,-40,-60,-80,-100], "format": "d", "tickCount": 20, "title": "ΔF₃ / Hz", "labelOverlap": false}},
     "y": {"field": "y", "type": "quantitative", "scale": {"domain": [-4, 8], "nice": false, "zero": false}, "axis": {"values": [-4,-2,0,2,4,6,8], "format": "d", "tickCount": 20, "title": "ΔD₃ x 10⁻⁶", "titlePadding": -2, "labelOverlap": false}},
     "order": {"field": "i", "type": "quantitative"},
     "color": {"field": "s", "type": "nominal", "scale": {"domain": ["PLGA-COOH","mPEG-b-PLGA","PLGA-COOH + Sodium cholate"], "range": ["#2e2c6e","#8a34a6","#d65ad6"]}, "legend": {"title": null, "orient": "bottom-right", "direction": "vertical", "offset": 5, "padding": 3, "rowPadding": 1, "labelFontSize": 12, "symbolType": "M-1.5,0L1.5,0", "symbolSize": 196, "symbolStrokeWidth": 2.5, "symbolOffset": 4, "labelOffset": 6}}
    }},
   {"transform": [{"filter": "datum.s === 'mPEG-b-PLGA'"}], "mark": {"type": "line", "strokeCap": "round", "strokeJoin": "round", "strokeWidth": 7}, "encoding": {"x": {"field": "x", "type": "quantitative"}, "y": {"field": "y", "type": "quantitative"}, "order": {"field": "i", "type": "quantitative"}, "color": {"field": "s", "type": "nominal", "legend": null}}},
   {"transform": [{"filter": "datum.s === 'PLGA-COOH + Sodium cholate'"}], "mark": {"type": "line", "strokeCap": "round", "strokeJoin": "round", "strokeWidth": 4.5}, "encoding": {"x": {"field": "x", "type": "quantitative"}, "y": {"field": "y", "type": "quantitative"}, "order": {"field": "i", "type": "quantitative"}, "color": {"field": "s", "type": "nominal", "legend": null}}},
   {"mark": {"type": "point", "filled": false, "size": 18, "strokeWidth": 0.8, "opacity": 0.8}, "encoding": {"x": {"field": "x", "type": "quantitative"}, "y": {"field": "y", "type": "quantitative"}, "color": {"field": "s", "type": "nominal", "legend": null}}},
   {"data": {"values": [{}]}, "mark": {"type": "text", "text": "HBG", "align": "left", "baseline": "alphabetic", "fontSize": 20, "color": "#000000"}, "encoding": {"x": {"datum": 16.65, "type": "quantitative"}, "y": {"datum": 6.9, "type": "quantitative"}}},
   {"data": {"values": [{}]}, "mark": {"type": "text", "text": "f", "align": "left", "baseline": "alphabetic", "fontSize": 18, "color": "#000000"}, "encoding": {"x": {"datum": 33.74, "type": "quantitative"}, "y": {"datum": 8.09, "type": "quantitative"}}}
  ]},
  {"data": {"values": [{"mx": 0, "my": 0}]}, "mark": {"type": "point", "opacity": 0}, "encoding": {"x": {"field": "mx", "type": "quantitative", "axis": {"orient": "top", "labels": false, "title": null, "values": [20,0,-20,-40,-60,-80,-100], "tickCount": 20}}, "y": {"field": "my", "type": "quantitative", "axis": {"orient": "right", "labels": false, "title": null, "values": [-4,-2,0,2,4,6,8], "tickCount": 20}}}}
 ],
 "resolve": {"axis": {"x": "independent", "y": "independent"}}
}
]
}
